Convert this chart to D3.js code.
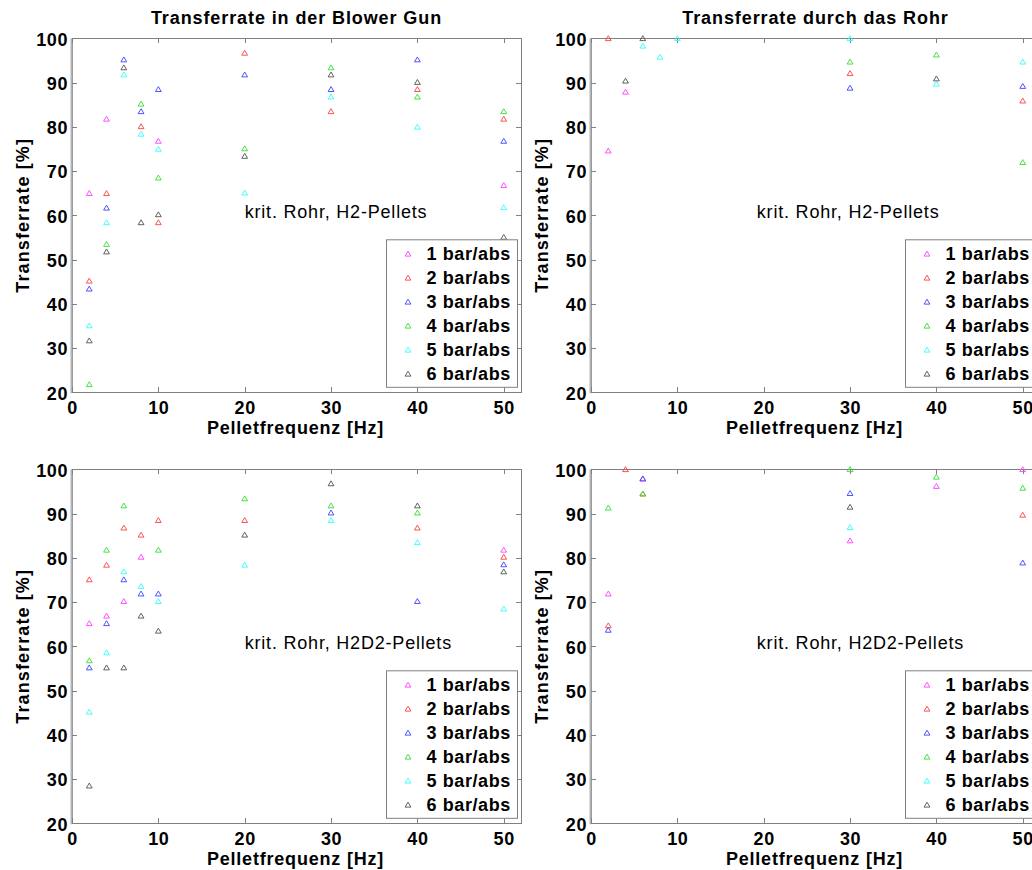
<!DOCTYPE html>
<html>
<head>
<meta charset="utf-8">
<script src="https://cdn.jsdelivr.net/npm/d3@7"></script>
<style>
  body { margin: 0; background: #fff; }
  svg { display: block; }
  text { font-family: "Liberation Sans", Arial, Helvetica, sans-serif; fill: #000; }
</style>
</head>
<body>
<svg id="fig" width="1032" height="870"></svg>
<script>
// Pellet frequencies (Hz) at which transfer rates were measured
const freqs = [2, 4, 6, 8, 10, 20, 30, 40, 50];

// Pressure series (legend entries) and their marker colours
const seriesLabels = ["1 bar/abs", "2 bar/abs", "3 bar/abs", "4 bar/abs", "5 bar/abs", "6 bar/abs"];
const seriesColors = ["#ff40ff", "#ff4040", "#4040ff", "#30e030", "#30ffff", "#505050"];

// Axis ticks
const xTicks = [0, 10, 20, 30, 40, 50];
const yTicks = [20, 30, 40, 50, 60, 70, 80, 90, 100];

// Transfer rate [%] per pressure, one value per frequency (null = no measurement)
// Blower gun, H2 pellets
const blowerH2 = [
  [65.0, 81.8, null, null, 76.8, null, null, null, 66.8],
  [45.2, 65.0, null, 80.1, 58.4, 96.7, 83.5, 88.5, 81.8],
  [43.4, 61.7, 95.2, 83.5, 88.5, 91.8, 88.5, 95.2, 76.8],
  [21.8, 53.5, null, 85.2, 68.5, 75.1, 93.4, 86.8, 83.5],
  [35.1, 58.4, 91.8, 78.4, 75.0, 65.1, 86.8, 80.0, 61.8],
  [31.7, 51.8, 93.4, 58.4, 60.2, 73.4, 91.8, 90.1, 55.1]
];
// Through the tube, H2 pellets
const rohrH2 = [
  [74.6, 87.9, null, null, null, null, null, null, null],
  [100.0, null, null, null, null, null, 92.1, null, 85.9],
  [null, null, null, null, null, null, 88.8, null, 89.2],
  [null, null, null, null, null, null, 94.7, 96.3, 72.0],
  [null, null, 98.3, 95.8, 100.0, null, 100.0, 89.7, 94.7],
  [null, 90.4, 100.0, null, null, null, null, 90.9, null]
];
// Blower gun, H2D2 pellets
const blowerH2D2 = [
  [65.2, 66.9, 70.2, 80.2, null, null, null, null, 81.8],
  [75.1, 78.4, 86.8, 85.2, 88.5, 88.5, null, 86.8, 80.2],
  [55.2, 65.2, 75.1, 71.9, 71.9, null, 90.2, 70.2, 78.5],
  [56.8, 81.8, 91.8, null, 81.8, 93.4, 91.8, 90.2, null],
  [45.2, 58.6, 76.9, 73.6, 70.2, 78.4, 88.5, 83.5, 68.5],
  [28.5, 55.2, 55.2, 66.9, 63.5, 85.2, 96.8, 91.8, 76.9]
];
// Through the tube, H2D2 pellets
const rohrH2D2 = [
  [71.9, null, 97.9, null, null, null, 83.9, 96.2, 100.0],
  [64.7, 100.0, 94.5, null, null, null, null, null, 89.7],
  [63.7, null, 97.9, null, null, null, 94.6, null, 78.9],
  [91.3, null, 94.5, null, null, null, 100.0, 98.3, 95.8],
  [null, null, null, null, null, null, 86.9, null, null],
  [null, null, null, null, null, null, 91.5, null, null]
];

const panelTitles = ["Transferrate in der Blower Gun", "Transferrate durch das Rohr", "", ""];
const panelNotes = ["krit. Rohr, H2-Pellets", "krit. Rohr, H2-Pellets", "krit. Rohr, H2D2-Pellets", "krit. Rohr, H2D2-Pellets"];
const noteX = [20, 19.2, 20, 19.2];
const noteY = [59.3, 59.3, 59.3, 59.3];
const xLabel = "Pelletfrequenz [Hz]";
const yLabel = "Transferrate [%]";

const panelData = [blowerH2, rohrH2, blowerH2D2, rohrH2D2];
const panelBoxes = [
  { left: 72,  top: 38.3 },
  { left: 591, top: 38.3 },
  { left: 72,  top: 469.3 },
  { left: 591, top: 469.3 }
];
const plotW = 449, plotH = 354;

const svg = d3.select("#fig");

// Upward-pointing open triangle marker
const tri = "M0,-2.6L2.9,2.3L-2.9,2.3Z";

panelData.forEach((data, p) => {
  const box = panelBoxes[p];
  const g = svg.append("g").attr("transform", `translate(${box.left},${box.top})`);
  const x = d3.scaleLinear().domain([0, 52]).range([0, plotW]);
  const y = d3.scaleLinear().domain([20, 100]).range([plotH, 0]);

  // Frame
  g.append("rect").attr("x", 0).attr("y", 0).attr("width", plotW).attr("height", plotH)
    .attr("fill", "#fff").attr("stroke", "#808080").attr("stroke-width", 1).attr("shape-rendering", "crispEdges");
  g.append("line").attr("x1", -0.5).attr("x2", -0.5).attr("y1", 0).attr("y2", plotH + 1)
    .attr("stroke", "#b4b4b4").attr("stroke-width", 2);

  // Inward ticks on all four sides, labels on bottom and left
  const tickLen = 5;
  const axisStyle = sel => {
    sel.select(".domain").remove();
    sel.selectAll(".tick line").attr("stroke", "#808080").attr("shape-rendering", "crispEdges");
    sel.selectAll(".tick text").style("font-size", "18px").style("font-weight", "bold")
      .style("letter-spacing", "0.6px").attr("fill", "#000");
  };
  g.append("g").attr("transform", `translate(0,${plotH})`)
    .call(d3.axisBottom(x).tickValues(xTicks).tickSize(-tickLen).tickPadding(10).tickFormat(d3.format("d")))
    .call(axisStyle)
    .call(s => s.selectAll(".tick text").attr("dy", "0.71em").attr("y", 9));
  g.append("g")
    .call(d3.axisTop(x).tickValues(xTicks).tickSize(-tickLen).tickFormat(""))
    .call(axisStyle);
  g.append("g")
    .call(d3.axisLeft(y).tickValues(yTicks).tickSize(-tickLen).tickPadding(9).tickFormat(d3.format("d")))
    .call(axisStyle)
    .call(s => s.selectAll(".tick text").attr("x", -4).attr("dy", "0.38em"));
  g.append("g").attr("transform", `translate(${plotW},0)`)
    .call(d3.axisRight(y).tickValues(yTicks).tickSize(-tickLen).tickFormat(""))
    .call(axisStyle);

  // Axis titles
  g.append("text").attr("x", plotW / 2 - 1).attr("y", plotH + 42)
    .attr("text-anchor", "middle").style("font-size", "18px").style("font-weight", "bold")
    .style("letter-spacing", "0.8px").text(xLabel);
  g.append("text").attr("transform", `translate(-43,${plotH / 2}) rotate(-90)`)
    .attr("text-anchor", "middle").style("font-size", "18px").style("font-weight", "bold")
    .style("letter-spacing", "1.1px").text(yLabel);

  // Panel title
  if (panelTitles[p]) {
    g.append("text").attr("x", plotW / 2).attr("y", -14)
      .attr("text-anchor", "middle").style("font-size", "18px").style("font-weight", "bold")
      .style("letter-spacing", "0.9px").text(panelTitles[p]);
  }

  // Annotation
  g.append("text").attr("x", x(noteX[p])).attr("y", y(noteY[p]))
    .style("font-size", "18px").style("letter-spacing", "0.8px").text(panelNotes[p]);

  // Data markers, one group per pressure series
  const clip = "clip" + p;
  g.append("clipPath").attr("id", clip).append("rect")
    .attr("x", -6).attr("y", -6).attr("width", plotW + 12).attr("height", plotH + 12);
  data.forEach((vals, s) => {
    const pts = freqs.map((f, i) => ({ f, v: vals[i] })).filter(d => d.v !== null);
    g.append("g").attr("clip-path", `url(#${clip})`)
      .selectAll("path").data(pts).join("path")
      .attr("transform", d => `translate(${x(d.f)},${y(d.v)})`)
      .attr("d", tri)
      .attr("fill", "none").attr("stroke", seriesColors[s]).attr("stroke-width", 0.9);
  });

  // Legend
  const lg = g.append("g").attr("transform", "translate(314.5,201.5)");
  lg.append("rect").attr("width", 131).attr("height", 147.5)
    .attr("fill", "#fff").attr("stroke", "#808080").attr("stroke-width", 1);
  seriesLabels.forEach((lab, s) => {
    const ry = 14 + s * 24;
    lg.append("path").attr("transform", `translate(21.5,${ry})`).attr("d", tri)
      .attr("fill", "none").attr("stroke", seriesColors[s]).attr("stroke-width", 0.9);
    lg.append("text").attr("x", 40).attr("y", ry + 6.5)
      .style("font-size", "18px").style("font-weight", "bold").style("letter-spacing", "0.6px")
      .text(lab);
  });
});
</script>
</body>
</html>
